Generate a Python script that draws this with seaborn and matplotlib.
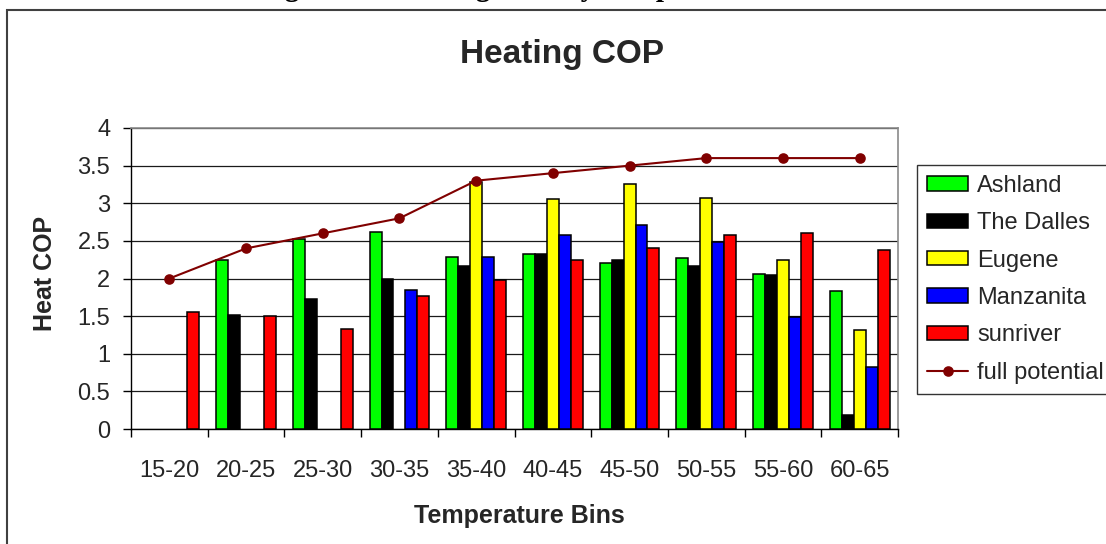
import numpy as np
import pandas as pd
import matplotlib
matplotlib.use("Agg")
import matplotlib.pyplot as plt
from matplotlib.patches import Rectangle
import seaborn as sns

# ---- data -------------------------------------------------------------
bins = ["15-20", "20-25", "25-30", "30-35", "35-40",
        "40-45", "45-50", "50-55", "55-60", "60-65"]
sites = ["Ashland", "The Dalles", "Eugene", "Manzanita", "sunriver"]

nan = np.nan
ashland    = [nan, 2.25, 2.53, 2.62, 2.29, 2.33, 2.21, 2.27, 2.06, 1.83]
the_dalles = [nan, 1.52, 1.73, 2.00, 2.17, 2.32, 2.25, 2.17, 2.05, 0.18]
eugene     = [nan, nan,  nan,  nan,  3.28, 3.05, 3.26, 3.07, 2.25, 1.31]
manzanita  = [nan, nan,  nan,  1.85, 2.29, 2.58, 2.71, 2.48, 1.49, 0.82]
sunriver   = [1.56, 1.50, 1.33, 1.77, 1.98, 2.25, 2.40, 2.58, 2.61, 2.38]
full_potential = [2.0, 2.4, 2.6, 2.8, 3.3, 3.4, 3.5, 3.6, 3.6, 3.6]

site_colors = ["#00FF00", "#000000", "#FFFF00", "#0000FF", "#FF0000"]
line_color = "#800000"

df = pd.DataFrame({
    "bin": np.tile(bins, len(sites)),
    "site": np.repeat(sites, len(bins)),
    "cop": np.concatenate([ashland, the_dalles, eugene, manzanita, sunriver]),
})

# ---- styling ----------------------------------------------------------
sns.set_theme(style="white")
plt.rcParams["font.family"] = ["Liberation Sans", "DejaVu Sans"]

W, H = 1106, 544
fig = plt.figure(figsize=(W / 100, H / 100), dpi=100)
fig.patch.set_facecolor("white")

# chart frame (runs off the right and bottom edges)
fig.patches.append(Rectangle((7 / W, -0.2), 1.2, 1.2 - 10 / H,
                             transform=fig.transFigure, fill=False,
                             edgecolor="#404040", linewidth=1.5))

# report caption above the chart
fig.text(259 / W, 1 + 3.5 / H, "Figure 12. Heating COP by Temperature Bin",
         ha="left", va="baseline", fontsize=21, fontweight="bold",
         family=["Liberation Serif", "DejaVu Serif"], color="black")

left, right, top, bottom = 131, 898, 128, 429
ax = fig.add_axes([left / W, 1 - bottom / H, (right - left) / W, (bottom - top) / H])

sns.barplot(data=df, x="bin", y="cop", hue="site", hue_order=sites,
            order=bins, palette=site_colors, edgecolor="black",
            linewidth=1.1, width=0.78, errorbar=None, ax=ax, zorder=3,
            saturation=1)
sns.pointplot(x=bins, y=full_potential, color=line_color, markers="o",
              markersize=6.5, linewidth=1.5, errorbar=None, ax=ax,
              label="full potential")
for ln in ax.lines:
    ln.set_zorder(5)

ax.set_ylim(0, 4)
ax.set_yticks(np.arange(0, 4.01, 0.5))
ax.set_yticklabels(["0", "0.5", "1", "1.5", "2", "2.5", "3", "3.5", "4"])
ax.set_xlim(-0.5, len(bins) - 0.5)
ax.set_xlabel("")
ax.set_ylabel("")

ax.yaxis.grid(True, color="#1a1a1a", linewidth=0.9, zorder=0)
ax.set_axisbelow(True)
for side in ["left", "bottom"]:
    ax.spines[side].set_color("black")
    ax.spines[side].set_linewidth(1.0)
for side in ["top", "right"]:
    ax.spines[side].set_color("#8a8a8a")
    ax.spines[side].set_linewidth(1.2)

ax.tick_params(axis="y", which="major", direction="out", length=6,
               width=1, color="black", labelsize=17, pad=9, left=True)
# x ticks sit on the bin boundaries, labels at the bin centres
ax.set_xticks(np.arange(len(bins)))
ax.set_xticklabels(bins)
ax.tick_params(axis="x", which="major", length=0, labelsize=17, pad=22)
ax.set_xticks(np.arange(-0.5, len(bins) + 0.5, 1), minor=True)
ax.tick_params(axis="x", which="minor", direction="out", length=6,
               width=1, color="black", bottom=True)

# titles
fig.text(562 / W, 1 - 63 / H, "Heating COP", ha="center", va="baseline",
         fontsize=24, fontweight="bold")
fig.text(519 / W, 1 - 523 / H, "Temperature Bins", ha="center",
         va="baseline", fontsize=18, fontweight="bold")
fig.text(45 / W, 1 - 273 / H, "Heat COP", ha="center", va="center",
         rotation=90, fontsize=18, fontweight="bold")

# legend
handles, labels = ax.get_legend_handles_labels()
if ax.get_legend() is not None:
    ax.get_legend().remove()
leg = fig.legend(handles, labels, loc="upper left",
                 bbox_to_anchor=(917 / W, 1 - 165 / H),
                 bbox_transform=fig.transFigure, borderaxespad=0,
                 fontsize=17, frameon=True, fancybox=False,
                 handlelength=1.75, handleheight=0.55, handletextpad=0.38,
                 labelspacing=0.65, borderpad=0.42)
leg.get_frame().set_edgecolor("black")
leg.get_frame().set_linewidth(1.0)

fig.savefig("out.png", dpi=100, facecolor="white")
